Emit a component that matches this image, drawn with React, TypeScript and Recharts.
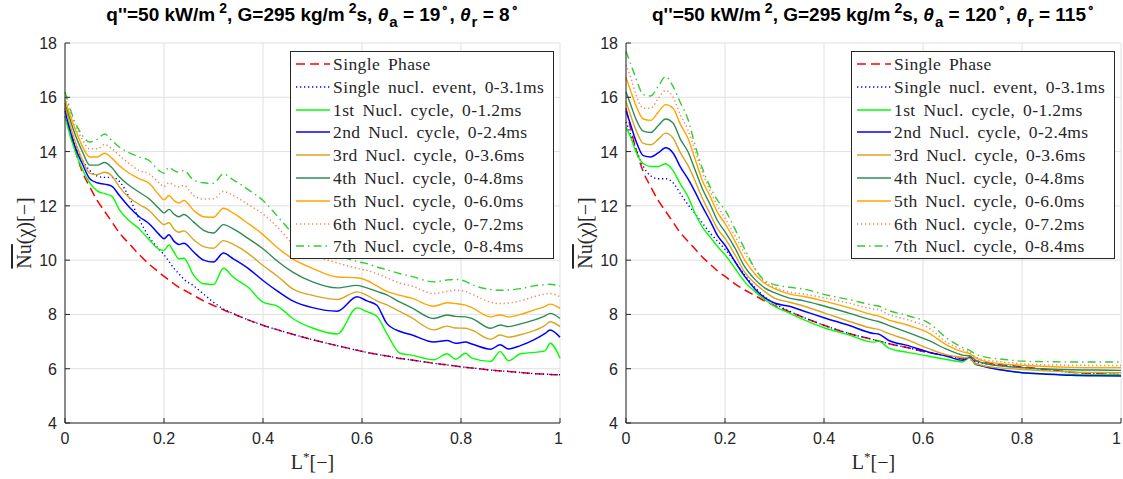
import React from 'react';
import { LineChart, Line, XAxis, YAxis, CartesianGrid } from 'recharts';

// ---------- shared axis ticks & labels ----------
const X_TICKS = [0, 0.2, 0.4, 0.6, 0.8, 1];
const Y_TICKS = [4, 6, 8, 10, 12, 14, 16, 18];
const SERIES_LABELS = [
  'Single Phase',
  'Single nucl. event, 0-3.1ms',
  '1st Nucl. cycle, 0-1.2ms',
  '2nd Nucl. cycle, 0-2.4ms',
  '3rd Nucl. cycle, 0-3.6ms',
  '4th Nucl. cycle, 0-4.8ms',
  '5th Nucl. cycle, 0-6.0ms',
  '6th Nucl. cycle, 0-7.2ms',
  '7th Nucl. cycle, 0-8.4ms',
];

// ---------- left panel (theta_a = 19, theta_r = 8) ----------
const LEFT_X = [0, 0.01, 0.02, 0.035, 0.05, 0.065, 0.08, 0.095, 0.11, 0.13, 0.15, 0.17, 0.19, 0.2, 0.21, 0.22, 0.23, 0.24, 0.26, 0.28, 0.3, 0.32, 0.34, 0.37, 0.4, 0.43, 0.46, 0.5, 0.55, 0.59, 0.61, 0.63, 0.65, 0.677, 0.7, 0.745, 0.772, 0.789, 0.809, 0.822, 0.86, 0.879, 0.896, 0.92, 0.947, 0.97, 0.98, 1.0];
const LEFT_SINGLE_PHASE = [15.6, 14.8, 14.1, 13.25, 12.7, 12.2, 11.8, 11.4, 11.0, 10.6, 10.2, 9.85, 9.55, 9.4, 9.27, 9.13, 9.0, 8.9, 8.7, 8.5, 8.33, 8.17, 8.02, 7.8, 7.6, 7.43, 7.27, 7.07, 6.85, 6.68, 6.6, 6.53, 6.47, 6.38, 6.32, 6.2, 6.14, 6.1, 6.05, 6.03, 5.95, 5.92, 5.9, 5.86, 5.82, 5.8, 5.79, 5.78];
const LEFT_SINGLE_NUCL = [15.3, 14.8, 14.3, 13.7, 13.3, 13.1, 13.05, 13.05, 12.9, 12.3, 11.5, 10.85, 10.4, 10.2, 9.95, 9.7, 9.5, 9.3, 9.05, 8.75, 8.45, 8.2, 8.03, 7.8, 7.6, 7.43, 7.27, 7.07, 6.85, 6.68, 6.6, 6.53, 6.47, 6.38, 6.32, 6.2, 6.14, 6.1, 6.05, 6.03, 5.95, 5.92, 5.9, 5.86, 5.82, 5.8, 5.79, 5.78];
const LEFT_CYCLE1 = [15.3, 14.6, 14.05, 13.35, 12.85, 12.55, 12.45, 12.35, 11.85, 11.45, 11.15, 10.75, 10.4, 10.36, 10.56, 10.3, 10.05, 10.07, 9.44, 9.13, 9.1, 9.7, 9.37, 9.0, 8.45, 8.3, 7.85, 7.5, 7.28, 8.24, 8.1, 7.93, 7.3, 6.57, 6.5, 6.33, 6.55, 6.35, 6.57, 6.39, 6.27, 6.63, 6.29, 6.55, 6.6, 6.66, 6.94, 6.39];
const LEFT_CYCLE2 = [15.5, 14.8, 14.2, 13.55, 13.0, 12.85, 12.8, 12.72, 12.38, 11.95, 11.6, 11.34, 10.95, 10.79, 10.94, 10.7, 10.58, 10.62, 10.3, 10.0, 9.93, 10.26, 10.05, 9.7, 9.25, 8.85, 8.5, 8.25, 8.12, 8.65, 8.5, 8.34, 7.67, 7.37, 7.25, 6.98, 7.04, 6.94, 6.98, 6.91, 6.72, 6.88, 6.73, 6.85, 7.06, 7.3, 7.43, 7.16];
const LEFT_CYCLE3 = [15.7, 15.0, 14.4, 13.7, 13.2, 13.15, 13.24, 13.1, 12.69, 12.3, 12.05, 11.83, 11.45, 11.31, 11.38, 11.15, 11.03, 11.08, 10.75, 10.5, 10.44, 10.72, 10.58, 10.25, 9.8, 9.4, 8.94, 8.7, 8.55, 8.83, 8.7, 8.5, 8.35, 8.1, 7.88, 7.43, 7.57, 7.5, 7.49, 7.42, 7.09, 7.24, 7.16, 7.25, 7.4, 7.6, 7.73, 7.55];
const LEFT_CYCLE4 = [15.8, 15.2, 14.65, 14.0, 13.5, 13.5, 13.6, 13.4, 13.06, 12.75, 12.5, 12.26, 11.9, 11.74, 11.87, 11.7, 11.6, 11.68, 11.4, 11.1, 11.0, 11.31, 11.15, 10.8, 10.42, 9.95, 9.56, 9.2, 8.98, 9.07, 8.98, 8.85, 8.72, 8.45, 8.25, 7.85, 7.98, 7.93, 7.91, 7.85, 7.49, 7.61, 7.55, 7.65, 7.79, 7.95, 8.04, 7.85];
const LEFT_CYCLE5 = [15.9, 15.35, 14.85, 14.2, 13.8, 13.8, 13.94, 13.75, 13.48, 13.2, 13.0, 12.83, 12.4, 12.22, 12.38, 12.2, 12.1, 12.2, 11.83, 11.6, 11.58, 11.91, 11.73, 11.35, 10.94, 10.45, 10.05, 9.7, 9.38, 9.35, 9.25, 9.05, 8.85, 8.7, 8.6, 8.3, 8.43, 8.4, 8.34, 8.25, 7.91, 7.98, 7.91, 8.0, 8.16, 8.3, 8.38, 8.22];
const LEFT_CYCLE6 = [16.0, 15.5, 15.0, 14.45, 14.1, 14.1, 14.26, 14.1, 13.85, 13.55, 13.3, 13.18, 12.85, 12.71, 12.85, 12.75, 12.7, 12.75, 12.38, 12.25, 12.26, 12.53, 12.38, 12.05, 11.7, 11.2, 10.6, 10.2, 9.9, 9.7, 9.62, 9.5, 9.35, 9.15, 9.05, 8.77, 8.85, 8.89, 8.85, 8.75, 8.45, 8.4, 8.42, 8.5, 8.65, 8.75, 8.77, 8.65];
const LEFT_CYCLE7 = [16.2, 15.6, 15.1, 14.6, 14.35, 14.45, 14.65, 14.4, 14.16, 13.95, 13.8, 13.67, 13.3, 13.2, 13.42, 13.3, 13.24, 13.3, 12.95, 12.85, 12.83, 13.17, 12.96, 12.6, 12.2, 11.6, 11.0, 10.6, 10.2, 9.95, 9.87, 9.75, 9.65, 9.5, 9.4, 9.2, 9.27, 9.29, 9.22, 9.1, 8.92, 8.89, 8.9, 8.95, 9.05, 9.1, 9.11, 9.04];

// ---------- right panel (theta_a = 120, theta_r = 115) ----------
const RIGHT_X = [0, 0.01, 0.02, 0.035, 0.05, 0.065, 0.08, 0.095, 0.11, 0.125, 0.14, 0.155, 0.17, 0.185, 0.2, 0.22, 0.24, 0.26, 0.28, 0.3, 0.33, 0.36, 0.4, 0.45, 0.5, 0.51, 0.53, 0.57, 0.61, 0.65, 0.68, 0.695, 0.705, 0.72, 0.76, 0.8, 0.85, 0.9, 0.95, 1.0];
const RIGHT_SINGLE_PHASE = [15.6, 14.8, 14.1, 13.25, 12.7, 12.2, 11.8, 11.4, 11.0, 10.7, 10.4, 10.1, 9.85, 9.6, 9.4, 9.13, 8.9, 8.7, 8.5, 8.33, 8.1, 7.88, 7.6, 7.3, 7.07, 7.02, 6.93, 6.77, 6.6, 6.47, 6.36, 6.32, 6.29, 6.25, 6.15, 6.07, 5.97, 5.87, 5.82, 5.78];
const RIGHT_SINGLE_NUCL = [15.1, 14.6, 14.1, 13.45, 13.1, 13.0, 13.0, 12.85, 12.45, 12.05, 11.7, 11.35, 11.0, 10.7, 10.4, 9.95, 9.45, 9.0, 8.65, 8.4, 8.12, 7.88, 7.6, 7.3, 7.07, 7.02, 6.93, 6.77, 6.6, 6.47, 6.36, 6.38, 6.25, 6.2, 6.12, 6.05, 5.96, 5.87, 5.82, 5.78];
const RIGHT_CYCLE1 = [14.9, 14.5, 14.0, 13.55, 13.45, 13.45, 13.55, 13.3, 12.8, 12.35, 11.7, 11.2, 10.85, 10.5, 10.2, 9.7, 9.2, 8.85, 8.55, 8.3, 8.05, 7.8, 7.51, 7.25, 6.98, 7.02, 6.77, 6.6, 6.47, 6.33, 6.25, 6.43, 6.16, 6.1, 5.95, 5.85, 5.81, 5.79, 5.78, 5.77];
const RIGHT_CYCLE2 = [15.5, 14.95, 14.4, 13.85, 13.8, 13.95, 14.14, 13.95, 13.43, 13.0, 12.5, 11.95, 11.45, 10.9, 10.55, 9.95, 9.4, 8.95, 8.62, 8.42, 8.3, 8.12, 7.88, 7.6, 7.3, 7.28, 7.05, 6.85, 6.62, 6.45, 6.31, 6.43, 6.2, 6.1, 5.95, 5.85, 5.8, 5.76, 5.74, 5.73];
const RIGHT_CYCLE3 = [15.85, 15.3, 14.8, 14.3, 14.25, 14.45, 14.68, 14.5, 13.95, 13.5, 12.9, 12.25, 11.7, 11.15, 10.8, 10.2, 9.55, 9.15, 8.85, 8.6, 8.45, 8.3, 8.06, 7.75, 7.48, 7.45, 7.3, 7.05, 6.75, 6.5, 6.42, 6.38, 6.2, 6.12, 6.02, 5.98, 5.92, 5.88, 5.86, 5.85];
const RIGHT_CYCLE4 = [16.2, 15.7, 15.2, 14.75, 14.7, 14.95, 15.2, 15.05, 14.45, 14.0, 13.3, 12.6, 12.05, 11.45, 11.05, 10.45, 9.75, 9.3, 8.98, 8.8, 8.6, 8.5, 8.31, 8.05, 7.78, 7.74, 7.6, 7.33, 7.05, 6.7, 6.5, 6.47, 6.33, 6.22, 6.1, 6.04, 5.99, 5.96, 5.95, 5.94];
const RIGHT_CYCLE5 = [16.75, 16.2, 15.7, 15.2, 15.15, 15.45, 15.73, 15.6, 15.0, 14.5, 13.7, 12.9, 12.35, 11.75, 11.35, 10.7, 10.0, 9.5, 9.15, 8.95, 8.75, 8.66, 8.49, 8.25, 7.98, 7.94, 7.8, 7.6, 7.33, 6.85, 6.62, 6.55, 6.42, 6.3, 6.18, 6.13, 6.08, 6.05, 6.04, 6.04];
const RIGHT_CYCLE6 = [17.2, 16.7, 16.1, 15.6, 15.6, 15.95, 16.25, 16.0, 15.35, 14.8, 14.0, 13.2, 12.55, 12.0, 11.55, 10.9, 10.25, 9.7, 9.2, 9.0, 8.82, 8.75, 8.61, 8.42, 8.2, 8.18, 8.0, 7.8, 7.52, 6.95, 6.7, 6.6, 6.45, 6.35, 6.25, 6.18, 6.14, 6.13, 6.12, 6.12];
const RIGHT_CYCLE7 = [17.7, 17.2, 16.7, 16.1, 16.05, 16.4, 16.76, 16.4, 15.8, 15.2, 14.2, 13.35, 12.7, 12.2, 11.85, 11.15, 10.4, 9.7, 9.25, 9.1, 9.0, 8.93, 8.74, 8.55, 8.34, 8.31, 8.15, 7.95, 7.7, 7.1, 6.78, 6.67, 6.55, 6.45, 6.35, 6.28, 6.26, 6.25, 6.25, 6.25];

// ---------- styles ----------
const KEYS = ['sp', 'sn', 'c1', 'c2', 'c3', 'c4', 'c5', 'c6', 'c7'];
const STYLES: { color: string; dash?: string; width: number }[] = [
  { color: '#ff0000', dash: '9 5', width: 1.5 },
  { color: '#0000ff', dash: '1.3 2.7', width: 1.4 },
  { color: '#00ff00', width: 1.4 },
  { color: '#0000ff', width: 1.5 },
  { color: '#daa520', width: 1.4 },
  { color: '#2e8b57', width: 1.4 },
  { color: '#ffa500', width: 1.4 },
  { color: '#f08a5d', dash: '1.3 2.7', width: 1.5 },
  { color: '#32cd32', dash: '8 4 1.5 4', width: 1.4 },
];

const AX = '#262626';
const SANS = "'Liberation Sans', Arial, Helvetica, sans-serif";
const SERIF = "'Liberation Serif', 'Times New Roman', serif";
const PLOT_TOP = 43;
const PLOT_H = 380;

function buildRows(xs: number[], series: number[][]) {
  return xs.map((x, i) => {
    const r: any = { x };
    KEYS.forEach((k, j) => {
      r[k] = series[j][i];
    });
    return r;
  });
}

const LEFT_ROWS = buildRows(LEFT_X, [LEFT_SINGLE_PHASE, LEFT_SINGLE_NUCL, LEFT_CYCLE1, LEFT_CYCLE2, LEFT_CYCLE3, LEFT_CYCLE4, LEFT_CYCLE5, LEFT_CYCLE6, LEFT_CYCLE7]);
const RIGHT_ROWS = buildRows(RIGHT_X, [RIGHT_SINGLE_PHASE, RIGHT_SINGLE_NUCL, RIGHT_CYCLE1, RIGHT_CYCLE2, RIGHT_CYCLE3, RIGHT_CYCLE4, RIGHT_CYCLE5, RIGHT_CYCLE6, RIGHT_CYCLE7]);

// ---------- ticks ----------
function BottomTick(p: any) {
  const { x, y, payload, cw } = p;
  const edge = cw ? cw - 2 : Infinity;
  const nearEdge = x + 4 > edge;
  return (
    <g>
      <line x1={x} x2={x} y1={y} y2={y - 5} stroke={AX} strokeWidth={1} />
      <text
        x={nearEdge ? edge : x}
        y={y + 21}
        textAnchor={nearEdge ? 'end' : 'middle'}
        fontSize={16}
        fontFamily={SANS}
        fill={AX}
      >
        {String(payload.value)}
      </text>
    </g>
  );
}
function TopTick(p: any) {
  const { x, y } = p;
  return <line x1={x} x2={x} y1={y} y2={y + 5} stroke={AX} strokeWidth={1} />;
}
function LeftTick(p: any) {
  const { x, y, payload } = p;
  return (
    <g>
      <line x1={x} x2={x + 5} y1={y} y2={y} stroke={AX} strokeWidth={1} />
      <text x={x - 8} y={y + 6} textAnchor="end" fontSize={16} fontFamily={SANS} fill={AX}>
        {String(payload.value)}
      </text>
    </g>
  );
}
function RightTick(p: any) {
  const { x, y } = p;
  return <line x1={x} x2={x - 5} y1={y} y2={y} stroke={AX} strokeWidth={1} />;
}

function XLabel(p: any) {
  const vb = p.viewBox || {};
  const cx = vb.x + vb.width / 2;
  const y = PLOT_TOP + PLOT_H + 46;
  return (
    <text x={cx} y={y} textAnchor="middle" fontFamily={SERIF} fontSize={20} fill={AX}>
      L<tspan dy={-8} fontSize={13}>*</tspan>
      <tspan dy={8}>[−]</tspan>
    </text>
  );
}
function YLabel(p: any) {
  const vb = p.viewBox || {};
  const cx = (vb.x || 0) + 31;
  const cy = PLOT_TOP + PLOT_H / 2;
  return (
    <text x={cx} y={cy} transform={`rotate(-90 ${cx} ${cy})`} textAnchor="middle" fontFamily={SERIF} fontSize={20} fill={AX}>
      <tspan style={{ textDecoration: 'overline' }}>Nu</tspan>
      <tspan>(χ)[−]</tspan>
    </text>
  );
}

// ---------- title & legend ----------
const supStyle: React.CSSProperties = { fontSize: 14, position: 'relative', top: -8, verticalAlign: 'baseline', lineHeight: 0, marginLeft: 4 };
const degStyle: React.CSSProperties = { fontSize: 12, position: 'relative', top: -9, verticalAlign: 'baseline', lineHeight: 0, marginLeft: 1 };
const subStyle: React.CSSProperties = { fontSize: 15, position: 'relative', top: 6, verticalAlign: 'baseline', lineHeight: 0, marginLeft: 1 };

function Title({ a, r }: { a: string; r: string }) {
  return (
    <div
      style={{
        position: 'absolute',
        left: 65,
        width: 495,
        top: 1,
        textAlign: 'center',
        fontFamily: SANS,
        fontWeight: 'bold',
        fontSize: 19,
        lineHeight: '28px',
        color: '#000',
        whiteSpace: 'nowrap',
      }}
    >
      q''=50 kW/m<span style={supStyle}>2</span>, G=295 kg/m<span style={supStyle}>2</span>s, <i>θ</i>
      <span style={subStyle}>a</span> = {a}
      <span style={degStyle}>∘</span>, <i>θ</i>
      <span style={subStyle}>r</span> = {r}
      <span style={degStyle}>∘</span>
    </div>
  );
}

function LegendBox({ left, top }: { left: number; top: number }) {
  const rowH = 22.8;
  return (
    <div
      style={{
        position: 'absolute',
        left,
        top,
        width: 264,
        height: 208,
        background: '#fff',
        border: `1px solid ${AX}`,
        boxSizing: 'border-box',
      }}
    >
      {SERIES_LABELS.map((lab, i) => {
        const st = STYLES[i];
        const cy = 12 + i * rowH;
        return (
          <div key={lab} style={{ position: 'absolute', left: 0, top: cy - 11, height: 22, width: 262 }}>
            <svg width={40} height={22} style={{ position: 'absolute', left: 4, top: 0 }}>
              <line x1={1} x2={35} y1={11} y2={11} stroke={st.color} strokeWidth={st.width} strokeDasharray={st.dash} />
            </svg>
            <span
              style={{
                position: 'absolute',
                left: 42,
                top: 0,
                lineHeight: '22px',
                fontFamily: SERIF,
                fontSize: 17.5,
                letterSpacing: 0.4,
                wordSpacing: 3,
                color: AX,
                whiteSpace: 'nowrap',
              }}
            >
              {lab}
            </span>
          </div>
        );
      })}
    </div>
  );
}

function Panel({ left, width, rows, a, r }: { left: number; width: number; rows: any[]; a: string; r: string }) {
  const rightMargin = width - 65 - 495;
  return (
    <div style={{ position: 'absolute', left, top: 0, width, height: 479 }}>
      <LineChart width={width} height={479} data={rows} margin={{ top: PLOT_TOP, right: rightMargin, bottom: 0, left: 0 }}>
        <CartesianGrid stroke="#e0e0e0" strokeWidth={1} />
        <XAxis
          dataKey="x"
          type="number"
          domain={[0, 1]}
          ticks={X_TICKS}
          interval={0}
          height={479 - PLOT_TOP - PLOT_H}
          tickLine={false}
          tickSize={0}
          tickMargin={0}
          axisLine={{ stroke: AX }}
          tick={<BottomTick cw={width} />}
          label={<XLabel />}
        />
        <XAxis
          xAxisId="top"
          orientation="top"
          dataKey="x"
          type="number"
          domain={[0, 1]}
          ticks={X_TICKS}
          interval={0}
          height={0}
          tickLine={false}
          tickSize={0}
          tickMargin={0}
          axisLine={{ stroke: AX }}
          tick={<TopTick />}
        />
        <YAxis
          type="number"
          domain={[4, 18]}
          ticks={Y_TICKS}
          interval={0}
          width={65}
          tickLine={false}
          tickSize={0}
          tickMargin={0}
          axisLine={{ stroke: AX }}
          tick={<LeftTick />}
          label={<YLabel />}
        />
        <YAxis
          yAxisId="right"
          orientation="right"
          type="number"
          domain={[4, 18]}
          ticks={Y_TICKS}
          interval={0}
          width={0}
          tickLine={false}
          tickSize={0}
          tickMargin={0}
          axisLine={{ stroke: AX }}
          tick={<RightTick />}
        />
        {KEYS.map((k, i) => (
          <Line
            key={k}
            dataKey={k}
            type="monotone"
            stroke={STYLES[i].color}
            strokeWidth={STYLES[i].width}
            strokeDasharray={STYLES[i].dash}
            dot={false}
            activeDot={false}
            isAnimationActive={false}
          />
        ))}
      </LineChart>
      <Title a={a} r={r} />
      <LegendBox left={65 + 225} top={51} />
    </div>
  );
}

export default function App() {
  return (
    <div style={{ position: 'absolute', left: 0, top: 0, width: 1123, height: 479, background: '#fff', overflow: 'hidden' }}>
      <Panel left={0} width={565} rows={LEFT_ROWS} a="19" r="8" />
      <Panel left={561} width={562} rows={RIGHT_ROWS} a="120" r="115" />
    </div>
  );
}
